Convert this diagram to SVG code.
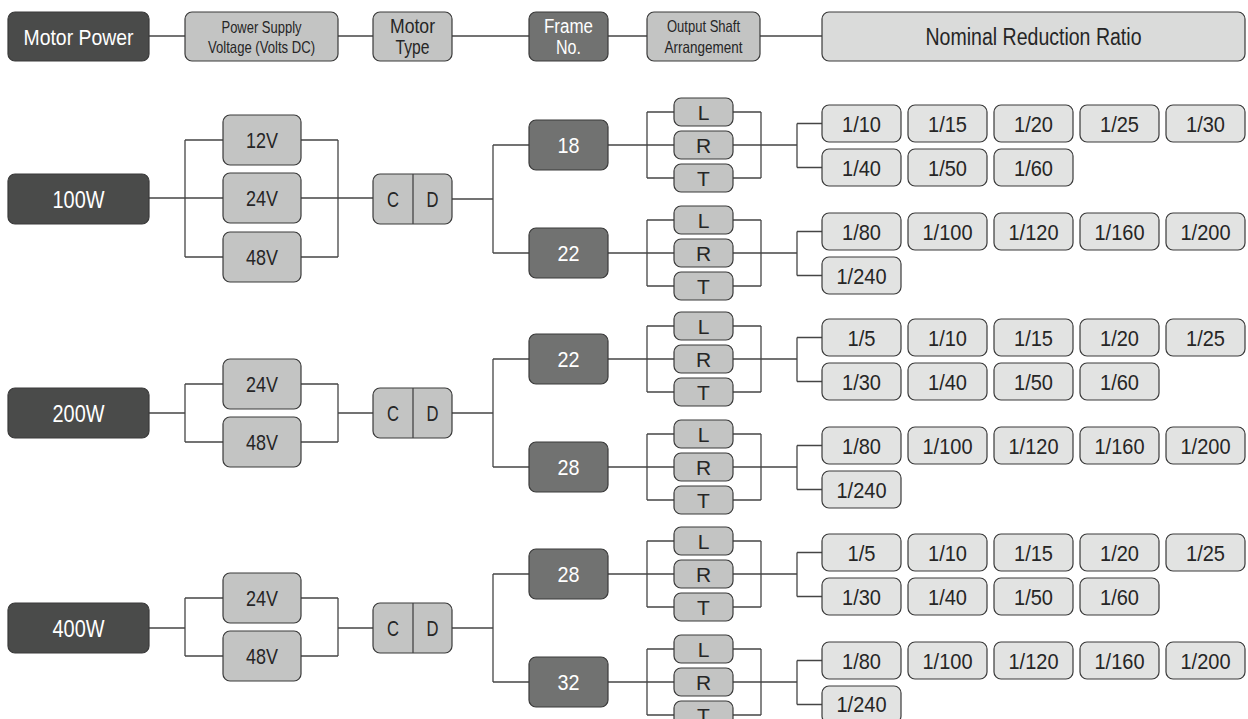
<svg xmlns="http://www.w3.org/2000/svg" width="1248" height="719" viewBox="0 0 1248 719">
<style>
.bx{stroke:#3a3a3a;stroke-width:1.2}
.dk{fill:#4a4b4a}
.fr{fill:#717271}
.md{fill:#c3c4c3}
.lt{fill:#e2e3e2}
.hd{fill:#dadbda}
.ln{fill:none;stroke:#454545;stroke-width:1.3}
text{font-family:"Liberation Sans",Arial,sans-serif;text-anchor:middle;fill:#262626}
.w{fill:#ffffff}
.f16{font-size:16.5px}.f20{font-size:20px}.f21{font-size:21px}.f22{font-size:21.5px}.f23{font-size:23px}
</style>
<rect width="1248" height="719" fill="#ffffff"/>

<g id="connectors">
<path class="ln" d="M149 36H185M338 36H373M452 36H529M608 36H647M760 36H822"/>
<path class="ln" d="M149 198H223M185 140V257M185 140H223M185 257H223M301 140H338M301 198H338M301 257H338M338 140V257M338 198H373"/>
<path class="ln" d="M452 199H493M493 145V253M493 145H529M493 253H529"/>
<path class="ln" d="M149 413H185M185 384V442M185 384H223M185 442H223M301 384H338M301 442H338M338 384V442M338 413H373"/>
<path class="ln" d="M452 413H493M493 359V467M493 359H529M493 467H529"/>
<path class="ln" d="M149 628H185M185 598V656M185 598H223M185 656H223M301 598H338M301 656H338M338 598V656M338 628H373"/>
<path class="ln" d="M452 628H493M493 574V682M493 574H529M493 682H529"/>
<path class="ln" d="M608 145H674M647 112V178M647 112H674M647 178H674M733 112H761M733 178H761M761 112V178M733 145H797M797 123.5V167.5M797 123.5H822M797 167.5H822"/>
<path class="ln" d="M608 253H674M647 220V286M647 220H674M647 286H674M733 220H761M733 286H761M761 220V286M733 253H797M797 231.5V275.5M797 231.5H822M797 275.5H822"/>
<path class="ln" d="M608 359H674M647 326V392M647 326H674M647 392H674M733 326H761M733 392H761M761 326V392M733 359H797M797 337.5V381.5M797 337.5H822M797 381.5H822"/>
<path class="ln" d="M608 467H674M647 434V500M647 434H674M647 500H674M733 434H761M733 500H761M761 434V500M733 467H797M797 445.5V489.5M797 445.5H822M797 489.5H822"/>
<path class="ln" d="M608 574H674M647 541V607M647 541H674M647 607H674M733 541H761M733 607H761M761 541V607M733 574H797M797 552.5V596.5M797 552.5H822M797 596.5H822"/>
<path class="ln" d="M608 682H674M647 649V715M647 649H674M647 715H674M733 649H761M733 715H761M761 649V715M733 682H797M797 660.5V704.5M797 660.5H822M797 704.5H822"/>
</g>

<g id="h-motor-power"><rect class="bx dk" x="8" y="12" width="141" height="49" rx="7"/><text class="w" font-size="22.5" x="78.5" y="45" textLength="110" lengthAdjust="spacingAndGlyphs">Motor Power</text></g>
<g id="h-voltage"><rect class="bx md" x="185" y="12" width="153" height="49" rx="7"/><text class="f16" x="261.5" y="33" textLength="80" lengthAdjust="spacingAndGlyphs">Power Supply</text><text class="f16" x="261.5" y="53" textLength="107" lengthAdjust="spacingAndGlyphs">Voltage (Volts DC)</text></g>
<g id="h-motor-type"><rect class="bx md" x="373" y="12" width="79" height="49" rx="7"/><text font-size="20" x="412.5" y="33" textLength="45" lengthAdjust="spacingAndGlyphs">Motor</text><text font-size="20" x="412.5" y="54" textLength="34" lengthAdjust="spacingAndGlyphs">Type</text></g>
<g id="h-frame"><rect class="bx fr" x="529" y="12" width="79" height="49" rx="7"/><text class="w" font-size="20" x="568.5" y="33" textLength="49" lengthAdjust="spacingAndGlyphs">Frame</text><text class="w" font-size="20" x="568.5" y="54" textLength="25" lengthAdjust="spacingAndGlyphs">No.</text></g>
<g id="h-shaft"><rect class="bx md" x="647" y="12" width="113" height="49" rx="7"/><text class="f16" x="703.5" y="32" textLength="73" lengthAdjust="spacingAndGlyphs">Output Shaft</text><text class="f16" x="703.5" y="53" textLength="78" lengthAdjust="spacingAndGlyphs">Arrangement</text></g>
<g id="h-ratio"><rect class="bx hd" x="822" y="12" width="423" height="49" rx="7"/><text class="f23" x="1033.5" y="45" textLength="216" lengthAdjust="spacingAndGlyphs">Nominal Reduction Ratio</text></g>

<g id="p100"><rect class="bx dk" x="8" y="174" width="141" height="50" rx="7"/><text class="w" font-size="23" x="78.5" y="207.5" textLength="52" lengthAdjust="spacingAndGlyphs">100W</text></g>
<g id="p100-12v"><rect class="bx md" x="223" y="115" width="78" height="50" rx="7"/><text class="f22" x="262" y="148" textLength="32" lengthAdjust="spacingAndGlyphs">12V</text></g>
<g id="p100-24v"><rect class="bx md" x="223" y="173" width="78" height="50" rx="7"/><text class="f22" x="262" y="206" textLength="32" lengthAdjust="spacingAndGlyphs">24V</text></g>
<g id="p100-48v"><rect class="bx md" x="223" y="232" width="78" height="50" rx="7"/><text class="f22" x="262" y="265" textLength="32" lengthAdjust="spacingAndGlyphs">48V</text></g>
<g id="p100-cd"><rect class="bx md" x="373" y="174" width="79" height="50" rx="7"/><line class="ln" x1="413" y1="174" x2="413" y2="224"/><text class="f22" x="393" y="207" textLength="12" lengthAdjust="spacingAndGlyphs">C</text><text class="f22" x="432.5" y="207" textLength="12" lengthAdjust="spacingAndGlyphs">D</text></g>

<g id="p200"><rect class="bx dk" x="8" y="388" width="141" height="50" rx="7"/><text class="w" font-size="23" x="78.5" y="421.5" textLength="52" lengthAdjust="spacingAndGlyphs">200W</text></g>
<g id="p200-24v"><rect class="bx md" x="223" y="359" width="78" height="50" rx="7"/><text class="f22" x="262" y="392" textLength="32" lengthAdjust="spacingAndGlyphs">24V</text></g>
<g id="p200-48v"><rect class="bx md" x="223" y="417" width="78" height="50" rx="7"/><text class="f22" x="262" y="450" textLength="32" lengthAdjust="spacingAndGlyphs">48V</text></g>
<g id="p200-cd"><rect class="bx md" x="373" y="388" width="79" height="50" rx="7"/><line class="ln" x1="413" y1="388" x2="413" y2="438"/><text class="f22" x="393" y="421" textLength="12" lengthAdjust="spacingAndGlyphs">C</text><text class="f22" x="432.5" y="421" textLength="12" lengthAdjust="spacingAndGlyphs">D</text></g>

<g id="p400"><rect class="bx dk" x="8" y="603" width="141" height="50" rx="7"/><text class="w" font-size="23" x="78.5" y="636.5" textLength="52" lengthAdjust="spacingAndGlyphs">400W</text></g>
<g id="p400-24v"><rect class="bx md" x="223" y="573" width="78" height="50" rx="7"/><text class="f22" x="262" y="606" textLength="32" lengthAdjust="spacingAndGlyphs">24V</text></g>
<g id="p400-48v"><rect class="bx md" x="223" y="631" width="78" height="50" rx="7"/><text class="f22" x="262" y="664" textLength="32" lengthAdjust="spacingAndGlyphs">48V</text></g>
<g id="p400-cd"><rect class="bx md" x="373" y="603" width="79" height="50" rx="7"/><line class="ln" x1="413" y1="603" x2="413" y2="653"/><text class="f22" x="393" y="636" textLength="12" lengthAdjust="spacingAndGlyphs">C</text><text class="f22" x="432.5" y="636" textLength="12" lengthAdjust="spacingAndGlyphs">D</text></g>

<g id="f100-18"><rect class="bx fr" x="529" y="120" width="79" height="50" rx="7"/><text class="w f22" x="568.5" y="153" textLength="22" lengthAdjust="spacingAndGlyphs">18</text></g>
<g id="f100-22"><rect class="bx fr" x="529" y="228" width="79" height="50" rx="7"/><text class="w f22" x="568.5" y="261" textLength="22" lengthAdjust="spacingAndGlyphs">22</text></g>
<g id="f200-22"><rect class="bx fr" x="529" y="334" width="79" height="50" rx="7"/><text class="w f22" x="568.5" y="367" textLength="22" lengthAdjust="spacingAndGlyphs">22</text></g>
<g id="f200-28"><rect class="bx fr" x="529" y="442" width="79" height="50" rx="7"/><text class="w f22" x="568.5" y="475" textLength="22" lengthAdjust="spacingAndGlyphs">28</text></g>
<g id="f400-28"><rect class="bx fr" x="529" y="549" width="79" height="50" rx="7"/><text class="w f22" x="568.5" y="582" textLength="22" lengthAdjust="spacingAndGlyphs">28</text></g>
<g id="f400-32"><rect class="bx fr" x="529" y="657" width="79" height="50" rx="7"/><text class="w f22" x="568.5" y="690" textLength="22" lengthAdjust="spacingAndGlyphs">32</text></g>

<g id="s100-18"><rect class="bx md" x="674" y="98" width="59" height="28" rx="7"/><text class="f21" x="703.5" y="120">L</text><rect class="bx md" x="674" y="131" width="59" height="28" rx="7"/><text class="f21" x="703.5" y="153">R</text><rect class="bx md" x="674" y="164" width="59" height="28" rx="7"/><text class="f21" x="703.5" y="186">T</text></g>
<g id="s100-22"><rect class="bx md" x="674" y="206" width="59" height="28" rx="7"/><text class="f21" x="703.5" y="228">L</text><rect class="bx md" x="674" y="239" width="59" height="28" rx="7"/><text class="f21" x="703.5" y="261">R</text><rect class="bx md" x="674" y="272" width="59" height="28" rx="7"/><text class="f21" x="703.5" y="294">T</text></g>
<g id="s200-22"><rect class="bx md" x="674" y="312" width="59" height="28" rx="7"/><text class="f21" x="703.5" y="334">L</text><rect class="bx md" x="674" y="345" width="59" height="28" rx="7"/><text class="f21" x="703.5" y="367">R</text><rect class="bx md" x="674" y="378" width="59" height="28" rx="7"/><text class="f21" x="703.5" y="400">T</text></g>
<g id="s200-28"><rect class="bx md" x="674" y="420" width="59" height="28" rx="7"/><text class="f21" x="703.5" y="442">L</text><rect class="bx md" x="674" y="453" width="59" height="28" rx="7"/><text class="f21" x="703.5" y="475">R</text><rect class="bx md" x="674" y="486" width="59" height="28" rx="7"/><text class="f21" x="703.5" y="508">T</text></g>
<g id="s400-28"><rect class="bx md" x="674" y="527" width="59" height="28" rx="7"/><text class="f21" x="703.5" y="549">L</text><rect class="bx md" x="674" y="560" width="59" height="28" rx="7"/><text class="f21" x="703.5" y="582">R</text><rect class="bx md" x="674" y="593" width="59" height="28" rx="7"/><text class="f21" x="703.5" y="615">T</text></g>
<g id="s400-32"><rect class="bx md" x="674" y="635" width="59" height="28" rx="7"/><text class="f21" x="703.5" y="657">L</text><rect class="bx md" x="674" y="668" width="59" height="28" rx="7"/><text class="f21" x="703.5" y="690">R</text><rect class="bx md" x="674" y="701" width="59" height="28" rx="7"/><text class="f21" x="703.5" y="723">T</text></g>

<g id="r100-18">
<rect class="bx lt" x="822" y="105" width="79" height="37" rx="7"/><text class="f22" x="861.5" y="131.5" textLength="39" lengthAdjust="spacingAndGlyphs">1/10</text>
<rect class="bx lt" x="908" y="105" width="79" height="37" rx="7"/><text class="f22" x="947.5" y="131.5" textLength="39" lengthAdjust="spacingAndGlyphs">1/15</text>
<rect class="bx lt" x="994" y="105" width="79" height="37" rx="7"/><text class="f22" x="1033.5" y="131.5" textLength="39" lengthAdjust="spacingAndGlyphs">1/20</text>
<rect class="bx lt" x="1080" y="105" width="79" height="37" rx="7"/><text class="f22" x="1119.5" y="131.5" textLength="39" lengthAdjust="spacingAndGlyphs">1/25</text>
<rect class="bx lt" x="1166" y="105" width="79" height="37" rx="7"/><text class="f22" x="1205.5" y="131.5" textLength="39" lengthAdjust="spacingAndGlyphs">1/30</text>
<rect class="bx lt" x="822" y="149" width="79" height="37" rx="7"/><text class="f22" x="861.5" y="175.5" textLength="39" lengthAdjust="spacingAndGlyphs">1/40</text>
<rect class="bx lt" x="908" y="149" width="79" height="37" rx="7"/><text class="f22" x="947.5" y="175.5" textLength="39" lengthAdjust="spacingAndGlyphs">1/50</text>
<rect class="bx lt" x="994" y="149" width="79" height="37" rx="7"/><text class="f22" x="1033.5" y="175.5" textLength="39" lengthAdjust="spacingAndGlyphs">1/60</text>
</g>
<g id="r100-22">
<rect class="bx lt" x="822" y="213" width="79" height="37" rx="7"/><text class="f22" x="861.5" y="239.5" textLength="39" lengthAdjust="spacingAndGlyphs">1/80</text>
<rect class="bx lt" x="908" y="213" width="79" height="37" rx="7"/><text class="f22" x="947.5" y="239.5" textLength="50" lengthAdjust="spacingAndGlyphs">1/100</text>
<rect class="bx lt" x="994" y="213" width="79" height="37" rx="7"/><text class="f22" x="1033.5" y="239.5" textLength="50" lengthAdjust="spacingAndGlyphs">1/120</text>
<rect class="bx lt" x="1080" y="213" width="79" height="37" rx="7"/><text class="f22" x="1119.5" y="239.5" textLength="50" lengthAdjust="spacingAndGlyphs">1/160</text>
<rect class="bx lt" x="1166" y="213" width="79" height="37" rx="7"/><text class="f22" x="1205.5" y="239.5" textLength="50" lengthAdjust="spacingAndGlyphs">1/200</text>
<rect class="bx lt" x="822" y="257" width="79" height="37" rx="7"/><text class="f22" x="861.5" y="283.5" textLength="50" lengthAdjust="spacingAndGlyphs">1/240</text>
</g>
<g id="r200-22">
<rect class="bx lt" x="822" y="319" width="79" height="37" rx="7"/><text class="f22" x="861.5" y="345.5" textLength="28" lengthAdjust="spacingAndGlyphs">1/5</text>
<rect class="bx lt" x="908" y="319" width="79" height="37" rx="7"/><text class="f22" x="947.5" y="345.5" textLength="39" lengthAdjust="spacingAndGlyphs">1/10</text>
<rect class="bx lt" x="994" y="319" width="79" height="37" rx="7"/><text class="f22" x="1033.5" y="345.5" textLength="39" lengthAdjust="spacingAndGlyphs">1/15</text>
<rect class="bx lt" x="1080" y="319" width="79" height="37" rx="7"/><text class="f22" x="1119.5" y="345.5" textLength="39" lengthAdjust="spacingAndGlyphs">1/20</text>
<rect class="bx lt" x="1166" y="319" width="79" height="37" rx="7"/><text class="f22" x="1205.5" y="345.5" textLength="39" lengthAdjust="spacingAndGlyphs">1/25</text>
<rect class="bx lt" x="822" y="363" width="79" height="37" rx="7"/><text class="f22" x="861.5" y="389.5" textLength="39" lengthAdjust="spacingAndGlyphs">1/30</text>
<rect class="bx lt" x="908" y="363" width="79" height="37" rx="7"/><text class="f22" x="947.5" y="389.5" textLength="39" lengthAdjust="spacingAndGlyphs">1/40</text>
<rect class="bx lt" x="994" y="363" width="79" height="37" rx="7"/><text class="f22" x="1033.5" y="389.5" textLength="39" lengthAdjust="spacingAndGlyphs">1/50</text>
<rect class="bx lt" x="1080" y="363" width="79" height="37" rx="7"/><text class="f22" x="1119.5" y="389.5" textLength="39" lengthAdjust="spacingAndGlyphs">1/60</text>
</g>
<g id="r200-28">
<rect class="bx lt" x="822" y="427" width="79" height="37" rx="7"/><text class="f22" x="861.5" y="453.5" textLength="39" lengthAdjust="spacingAndGlyphs">1/80</text>
<rect class="bx lt" x="908" y="427" width="79" height="37" rx="7"/><text class="f22" x="947.5" y="453.5" textLength="50" lengthAdjust="spacingAndGlyphs">1/100</text>
<rect class="bx lt" x="994" y="427" width="79" height="37" rx="7"/><text class="f22" x="1033.5" y="453.5" textLength="50" lengthAdjust="spacingAndGlyphs">1/120</text>
<rect class="bx lt" x="1080" y="427" width="79" height="37" rx="7"/><text class="f22" x="1119.5" y="453.5" textLength="50" lengthAdjust="spacingAndGlyphs">1/160</text>
<rect class="bx lt" x="1166" y="427" width="79" height="37" rx="7"/><text class="f22" x="1205.5" y="453.5" textLength="50" lengthAdjust="spacingAndGlyphs">1/200</text>
<rect class="bx lt" x="822" y="471" width="79" height="37" rx="7"/><text class="f22" x="861.5" y="497.5" textLength="50" lengthAdjust="spacingAndGlyphs">1/240</text>
</g>
<g id="r400-28">
<rect class="bx lt" x="822" y="534" width="79" height="37" rx="7"/><text class="f22" x="861.5" y="560.5" textLength="28" lengthAdjust="spacingAndGlyphs">1/5</text>
<rect class="bx lt" x="908" y="534" width="79" height="37" rx="7"/><text class="f22" x="947.5" y="560.5" textLength="39" lengthAdjust="spacingAndGlyphs">1/10</text>
<rect class="bx lt" x="994" y="534" width="79" height="37" rx="7"/><text class="f22" x="1033.5" y="560.5" textLength="39" lengthAdjust="spacingAndGlyphs">1/15</text>
<rect class="bx lt" x="1080" y="534" width="79" height="37" rx="7"/><text class="f22" x="1119.5" y="560.5" textLength="39" lengthAdjust="spacingAndGlyphs">1/20</text>
<rect class="bx lt" x="1166" y="534" width="79" height="37" rx="7"/><text class="f22" x="1205.5" y="560.5" textLength="39" lengthAdjust="spacingAndGlyphs">1/25</text>
<rect class="bx lt" x="822" y="578" width="79" height="37" rx="7"/><text class="f22" x="861.5" y="604.5" textLength="39" lengthAdjust="spacingAndGlyphs">1/30</text>
<rect class="bx lt" x="908" y="578" width="79" height="37" rx="7"/><text class="f22" x="947.5" y="604.5" textLength="39" lengthAdjust="spacingAndGlyphs">1/40</text>
<rect class="bx lt" x="994" y="578" width="79" height="37" rx="7"/><text class="f22" x="1033.5" y="604.5" textLength="39" lengthAdjust="spacingAndGlyphs">1/50</text>
<rect class="bx lt" x="1080" y="578" width="79" height="37" rx="7"/><text class="f22" x="1119.5" y="604.5" textLength="39" lengthAdjust="spacingAndGlyphs">1/60</text>
</g>
<g id="r400-32">
<rect class="bx lt" x="822" y="642" width="79" height="37" rx="7"/><text class="f22" x="861.5" y="668.5" textLength="39" lengthAdjust="spacingAndGlyphs">1/80</text>
<rect class="bx lt" x="908" y="642" width="79" height="37" rx="7"/><text class="f22" x="947.5" y="668.5" textLength="50" lengthAdjust="spacingAndGlyphs">1/100</text>
<rect class="bx lt" x="994" y="642" width="79" height="37" rx="7"/><text class="f22" x="1033.5" y="668.5" textLength="50" lengthAdjust="spacingAndGlyphs">1/120</text>
<rect class="bx lt" x="1080" y="642" width="79" height="37" rx="7"/><text class="f22" x="1119.5" y="668.5" textLength="50" lengthAdjust="spacingAndGlyphs">1/160</text>
<rect class="bx lt" x="1166" y="642" width="79" height="37" rx="7"/><text class="f22" x="1205.5" y="668.5" textLength="50" lengthAdjust="spacingAndGlyphs">1/200</text>
<rect class="bx lt" x="822" y="686" width="79" height="37" rx="7"/><text class="f22" x="861.5" y="712" textLength="50" lengthAdjust="spacingAndGlyphs">1/240</text>
</g>
</svg>
